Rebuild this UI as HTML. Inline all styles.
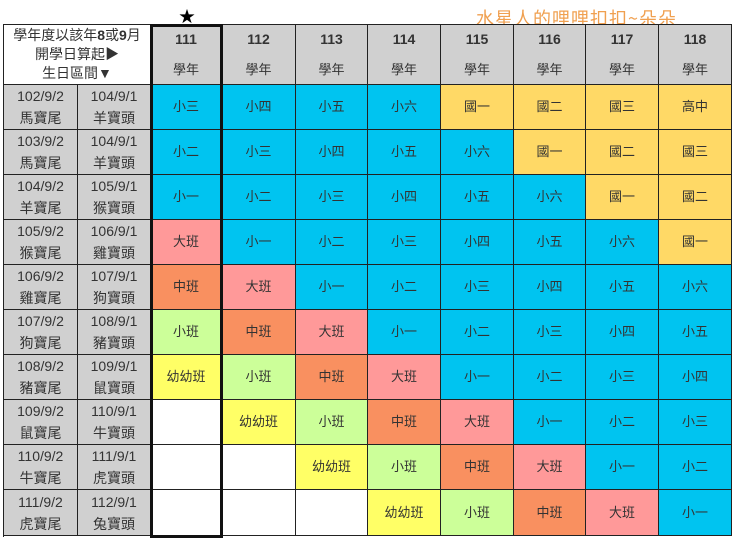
<!DOCTYPE html>
<html><head><meta charset="utf-8"><style>
body{margin:0;width:733px;height:540px;background:#fff;position:relative;overflow:hidden;font-family:"Liberation Sans","Noto Sans CJK TC",sans-serif;}
.c{position:absolute;box-sizing:border-box;border-right:1px solid #222;border-bottom:1px solid #222;display:flex;align-items:center;justify-content:center;font-size:13px;color:#333;text-align:center;line-height:22px;}
</style></head><body>
<div style="position:absolute;left:476px;top:5px;font-size:18px;color:#f0a050;letter-spacing:1px;font-family:'Noto Sans CJK TC',sans-serif;">水星人的哩哩扣扣~朵朵</div>
<div style="position:absolute;left:179px;top:3px;font-size:16px;">★</div>
<div id="t"></div>
<div style="position:absolute;left:150px;top:24px;width:73px;height:514px;box-sizing:border-box;border:3px solid #111;"></div>
<script>
const xs=[4,78,151,222,296,368,441,514,586,659,732];
const ys=[25,85,130,175,220,265,310,355,400,445,490,536];
const years=['111','112','113','114','115','116','117','118'];
const startDates=['102/9/2','103/9/2','104/9/2','105/9/2','106/9/2','107/9/2','108/9/2','109/9/2','110/9/2','111/9/2'];
const startTags=['馬寶尾','馬寶尾','羊寶尾','猴寶尾','雞寶尾','狗寶尾','豬寶尾','鼠寶尾','牛寶尾','虎寶尾'];
const endDates=['104/9/1','104/9/1','105/9/1','106/9/1','107/9/1','108/9/1','109/9/1','110/9/1','111/9/1','112/9/1'];
const endTags=['羊寶頭','羊寶頭','猴寶頭','雞寶頭','狗寶頭','豬寶頭','鼠寶頭','牛寶頭','虎寶頭','兔寶頭'];
const levels=['幼幼班','小班','中班','大班','小一','小二','小三','小四','小五','小六','國一','國二','國三','高中'];
const levelColors=['#ffff66','#ccff99','#f99060','#ff9999','#00c4f0','#00c4f0','#00c4f0','#00c4f0','#00c4f0','#00c4f0','#ffd966','#ffd966','#ffd966','#ffd966'];
const firstLevel=6;
const T=document.getElementById('t');
const ob=document.createElement('div');ob.style.cssText='position:absolute;left:3px;top:24px;width:729px;height:513px;box-sizing:border-box;border-left:1px solid #222;border-top:1px solid #222;';


T.appendChild(ob);
function cell(x0,y0,x1,y1,html,bg,name){
 const d=document.createElement('div');d.className='c';
 d.style.left=x0+'px';d.style.top=y0+'px';d.style.width=(x1-x0)+'px';d.style.height=(y1-y0)+'px';
 d.style.background=bg;d.innerHTML='<div>'+html+'</div>';
 
 
 T.appendChild(d);return d;
}
const h=cell(xs[0],ys[0],xs[2],ys[1],'學年度以該年<b>8</b>或<b>9</b>月<br>開學日算起▶<br>生日區間▼','#fff','corner-header');
h.style.fontSize='14px';h.style.lineHeight='19px';
years.forEach((y,i)=>{const d=cell(xs[i+2],ys[0],xs[i+3],ys[1],'<b style="font-size:14px">'+y+'</b><br>學年','#d0d0d0','year-header-'+y);d.style.lineHeight='30px';});
for(let r=0;r<startDates.length;r++){
 cell(xs[0],ys[r+1],xs[1],ys[r+2],startDates[r]+'<br>'+startTags[r],'#d0d0d0','birth-start-'+r).style.fontSize='14px';
 cell(xs[1],ys[r+1],xs[2],ys[r+2],endDates[r]+'<br>'+endTags[r],'#d0d0d0','birth-end-'+r).style.fontSize='14px';
 for(let c=0;c<years.length;c++){
  const idx=firstLevel+c-r;
  const txt=idx>=0?levels[idx]:'';
  cell(xs[c+2],ys[r+1],xs[c+3],ys[r+2],txt,idx>=0?levelColors[idx]:'#fff','grade-cell-r'+r+'-c'+c);
 }
}
</script>
</body></html>
